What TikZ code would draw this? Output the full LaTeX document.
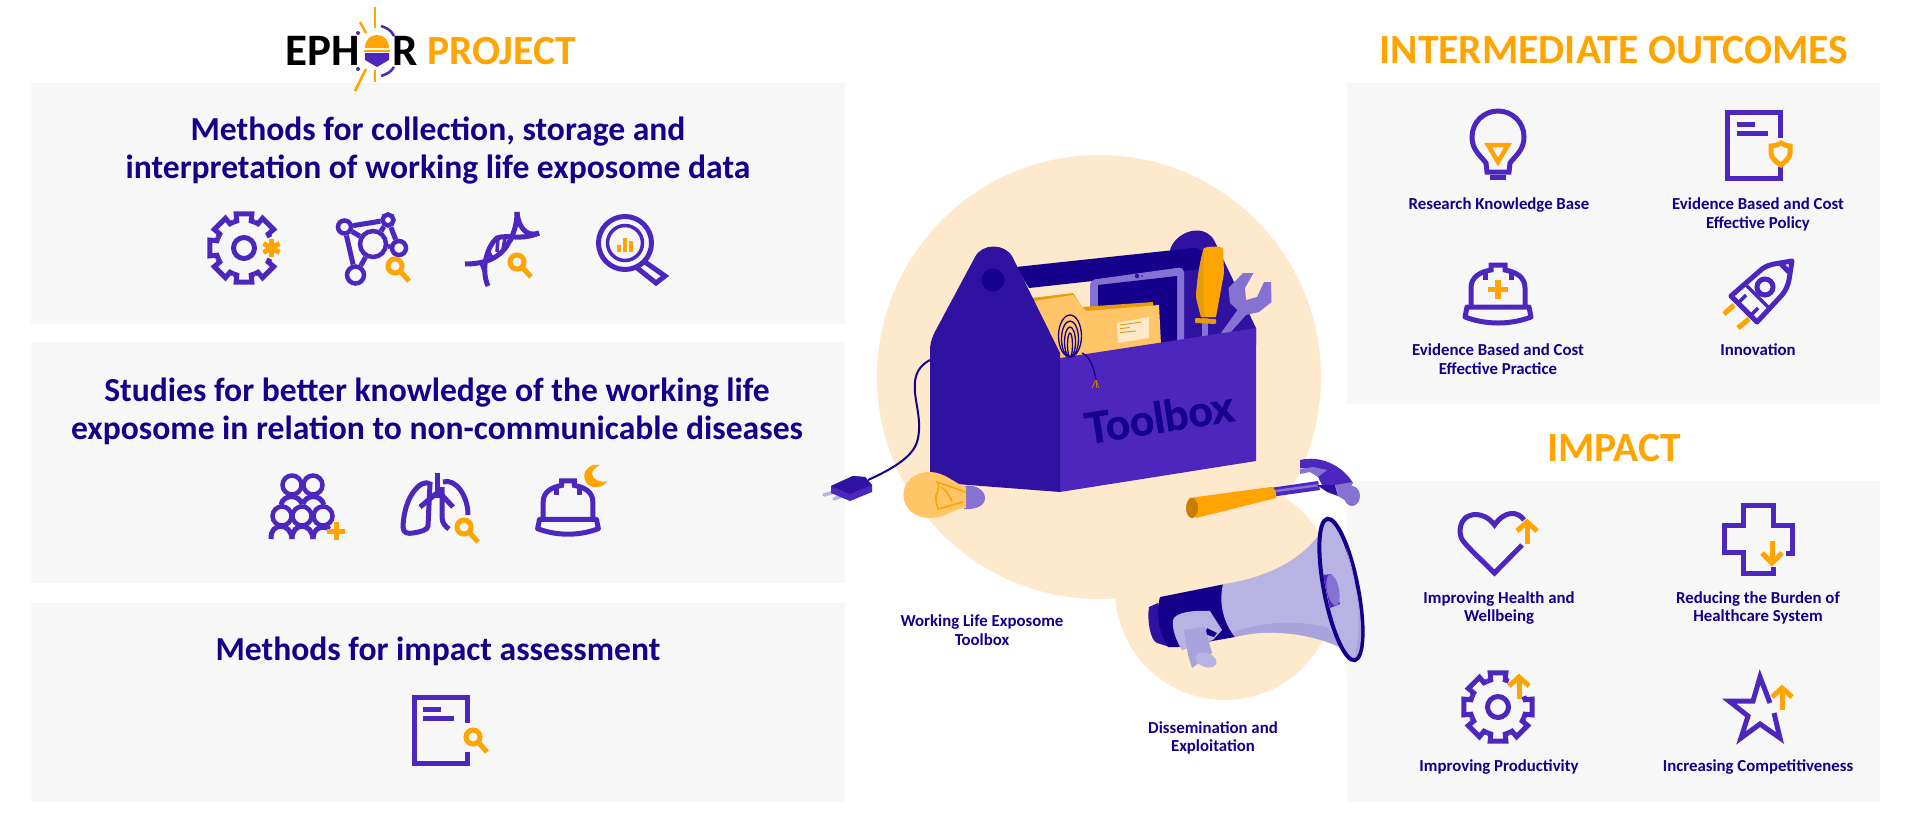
\documentclass[tikz,border=0pt]{standalone}
\usepackage{fontspec}
\setmainfont{Carlito}
\newfontfamily\boxfont[BoldFeatures={FakeBold=1.5}]{Lato}
\usepackage{tikz}

\definecolor{clrnavy}{HTML}{14008A}
\definecolor{clrpurple}{HTML}{4D27BD}
\definecolor{clrdeep}{HTML}{2F12A0}
\definecolor{clrlilac}{HTML}{8572D2}
\definecolor{clrpale}{HTML}{B8B3E3}
\definecolor{clrshade}{HTML}{A9A3DC}
\definecolor{clrorange}{HTML}{FFA400}
\definecolor{clramber}{HTML}{E89C0C}
\definecolor{clrumber}{HTML}{C97E00}
\definecolor{clrfolder}{HTML}{FFC566}
\definecolor{clrbeige}{HTML}{FEE9CC}
\definecolor{clrpanel}{HTML}{F7F7F7}

\tikzset{
  panelbox/.style={fill=clrpanel, draw=none},
  iconline/.style={draw=clrpurple, line width=5pt},
  orangeline/.style={draw=clrorange, line width=5pt},
  titletext/.style={text=clrnavy, font=\bfseries\fontsize{33.6}{38}\selectfont, align=center, inner sep=0},
  headtext/.style={text=clrorange, font=\bfseries\fontsize{41.5}{44}\selectfont, inner sep=0},
  logotext/.style={text=black, font=\bfseries\fontsize{45}{46}\selectfont, inner sep=0},
  smalltext/.style={text=clrnavy, font=\bfseries\fontsize{16.8}{18.5}\selectfont, align=center, inner sep=0},
  netdot/.style={circle, draw=clrpurple, line width=4.5pt, inner sep=0},
}

\newcommand{\lensicon}[2]{%
  \draw[orangeline] (#1,#2) circle (7);
  \draw[orangeline] ({#1+5},{#2+5}) -- ({#1+14},{#2+15});
}
\newcommand{\arrowup}[2]{%
  \draw[orangeline] (#1,{#2+2}) -- (#1,{#2+23});
  \draw[orangeline] ({#1-10},{#2+10}) -- (#1,{#2+1}) -- ({#1+10},{#2+10});
}
\newcommand{\docicon}[2]{%
  \begin{scope}[shift={(#1,#2)}]
  \draw[iconline] (53,26) -- (53,0) -- (0,0) -- (0,66) -- (53,66) -- (53,55);
  \draw[iconline] (9,12) -- (27,12);
  \draw[iconline] (9,21) -- (40,21);
  \end{scope}
}
\newcommand{\hardhat}[3]{%
  \begin{scope}[shift={(#1,#2)}, scale=#3]
  \draw[iconline] (-27,44) -- (-27,25) .. controls (-27,14) and (-18,9) .. (-7,7) -- (-7,2) -- (7,2) -- (7,7) .. controls (18,9) and (27,14) .. (27,25) -- (27,44);
  \draw[iconline] (-13,8) -- (-13,17);
  \draw[iconline] (13,8) -- (13,17);
  \draw[iconline, line join=round] (-31,44) -- (31,44) -- (33,54) .. controls (12,62) and (-12,62) .. (-33,54) -- cycle;
  \end{scope}
}
\newcommand{\gearicon}[3]{%
  \begin{scope}[shift={(#1,#2)}]
  \foreach \a in {#3} {
    \draw[iconline] ({\a-22.5}:28) -- ({\a-15}:28) -- ({\a-13}:35) -- ({\a+13}:35) -- ({\a+15}:28) -- ({\a+22.5}:28);
  }
  \draw[iconline] (0,0) circle (10.5);
  \end{scope}
}

\begin{document}
\begin{tikzpicture}[x=1pt, y=-1pt]
\useasboundingbox (0,0) rectangle (1920,836);

\fill[panelbox] (31,83) rectangle (845,324);
\fill[panelbox] (31,342) rectangle (845,583);
\fill[panelbox] (31,603) rectangle (845,802);
\fill[panelbox] (1347,83) rectangle (1880,404);
\fill[panelbox] (1347,481) rectangle (1880,802);

% logo
\node[logotext, anchor=east] (ephletters) at (360,51) {EPH};
\node[logotext, anchor=west] (rletter) at (392,51) {R};
\node[headtext, anchor=west] (projecttitle) at (427,51) {PROJECT};
\fill[clrorange] (365,48) .. controls (365,40) and (370,35) .. (377,35) .. controls (384,35) and (389,40) .. (389,48) -- cycle;
\fill[clrorange] (364,49.5) rectangle (390,51.5);
\fill[clrpurple] (365,53) -- (389,53) -- (389,60) -- (377,67) -- (365,60) -- cycle;
\draw[clrorange, line width=2.5pt] (375,7) -- (375,28);
\draw[clrorange, line width=2.5pt] (360,22) -- (366,33);
\draw[clrorange, line width=2.5pt] (366,69) -- (355,91);
\draw[clrorange, line width=2.5pt] (375,70) -- (375,82);
\draw[clrpurple, line width=2.5pt] (381,26) .. controls (387,28) and (391,30) .. (394,36);
\draw[clrpurple, line width=2.5pt] (381,76) .. controls (387,74) and (391,72) .. (394,67);
\fill[clrpurple] (358,33) circle (2);
\fill[clrpurple] (358,69) circle (2);

\node[headtext] (outcomestitle) at (1614,50) {INTERMEDIATE OUTCOMES};
\node[headtext] (impacttitle) at (1614,448) {IMPACT};

\begin{scope}[every node/.style={titletext}]
\node (methodstitle) at (438,151) {Methods for collection, storage and\\interpretation of working life exposome data};
\node (studiestitle) at (437,411) {Studies for better knowledge of the working life\\exposome in relation to non-communicable diseases};
\node (assesstitle) at (438,651) {Methods for impact assessment};
\end{scope}

\begin{scope}[every node/.style={smalltext}]
\node (knowledge) at (1499,205) {Research Knowledge Base};
\node (policy) at (1758,214.5) {Evidence Based and Cost\\Effective Policy};
\node (practice) at (1498,359) {Evidence Based and Cost\\Effective Practice};
\node (innovation) at (1758,350) {Innovation};
\node (health) at (1499,608) {Improving Health and\\Wellbeing};
\node (burden) at (1758,608) {Reducing the Burden of\\Healthcare System};
\node (productivity) at (1499,767) {Improving Productivity};
\node (competitive) at (1758,767) {Increasing Competitiveness};
\node (toolboxcap) at (982,630) {Working Life Exposome\\Toolbox};
\node (dissemination) at (1213,738) {Dissemination and\\Exploitation};
\end{scope}

% gear with asterisk
\gearicon{244}{248}{-135,-90,-45,45,90,135,180}
\draw[orangeline] (271.5,239) -- (271.5,257);
\draw[orangeline] (263.5,243.5) -- (279.5,252.5);
\draw[orangeline] (263.5,252.5) -- (279.5,243.5);

% network
\node[netdot, minimum size=13pt] (n1) at (344.5,227) {};
\node[netdot, minimum size=11pt] (n2) at (388,220) {};
\node[netdot, minimum size=26pt] (n3) at (373,244) {};
\node[netdot, minimum size=14pt] (n4) at (399,248) {};
\node[netdot, minimum size=17pt] (n5) at (355.5,275) {};
\draw[iconline] (n1) -- (n2);
\draw[iconline] (n2) -- (n4);
\draw[iconline] (n1) -- (n5);
\draw[iconline] (n1) -- (n3);
\draw[iconline] (n3) -- (n2);
\draw[iconline] (n3) -- (n4);
\draw[iconline] (n3) -- (n5);
\lensicon{395}{266}

% dna
\draw[iconline] (517,212) .. controls (518,225) and (525,238) .. (539,233);
\draw[iconline] (539,233) .. controls (520,241) and (508,234) .. (497,238) .. controls (488,245) and (480,268) .. (488,286);
\draw[iconline] (465,264) .. controls (485,264) and (500,258) .. (508,244) .. controls (513,235) and (517,226) .. (517,212);
\draw[iconline, line width=3.5pt] (498,238) -- (497,252);
\draw[iconline, line width=3.5pt] (505,238) -- (503,249);
\draw[iconline, line width=3.5pt] (512,238) -- (511,241);
\draw[iconline, line width=3.5pt] (488,250) -- (492,258);
\draw[iconline, line width=3.5pt] (481,263) -- (484,271);
\lensicon{517}{262}

% search with bars
\draw[iconline] (625,243) circle (26.5);
\draw[iconline, line width=3.5pt] (625,243) circle (17.5);
\draw[iconline] (645,262) -- (665,276) -- (656,283) -- (636,267);
\fill[clrorange] (617,245) rectangle (621,252);
\fill[clrorange] (623,238) rectangle (627,252);
\fill[clrorange] (629,241) rectangle (633,252);

% people
\begin{scope}[every node/.style={netdot, minimum size=19pt}]
\node (head1) at (292,485) {};
\node (head2) at (313,485) {};
\node (head3) at (282,516) {};
\node (head4) at (302,516) {};
\node (head5) at (323,516) {};
\end{scope}
\draw[iconline] (281,505) .. controls (283,494) and (299,494) .. (302,504);
\draw[iconline] (303,504) .. controls (306,494) and (321,494) .. (324,505);
\draw[iconline] (271,539) .. controls (270,522) and (291,522) .. (292,539);
\draw[iconline] (292,539) .. controls (292,522) and (312,522) .. (313,539);
\draw[iconline] (313,539) .. controls (313,526) and (324,526) .. (330,529);
\draw[orangeline] (336,522) -- (336,540);
\draw[orangeline] (327,531) -- (345,531);

% lungs
\draw[iconline] (437,473) -- (437,498);
\draw[iconline] (437,493) -- (420,507);
\draw[iconline] (440,493) -- (453,507);
\draw[iconline] (430,484) .. controls (422,478) and (404,495) .. (403,527) .. controls (403,533) and (408,534) .. (413,533) .. controls (420,532) and (428,530) .. (428,526) -- cycle;
\draw[iconline] (443,482) .. controls (455,478) and (468,495) .. (468,515);
\draw[iconline] (442,487) -- (442,517) .. controls (442,523) and (445,526) .. (449,529);
\lensicon{464}{527}

% helmet and moon
\hardhat{568}{479}{0.92}
\fill[clrorange] (600,465) .. controls (588,463) and (582,473) .. (585,480) .. controls (588,489) and (602,490) .. (607,481) .. controls (600,483) and (593,480) .. (592,474) .. controls (592,470) and (596,467) .. (600,465) -- cycle;

\docicon{414}{697}
\lensicon{473}{737}

% bulb
\draw[iconline] (1487,172) -- (1486,163) .. controls (1480,155) and (1472,150) .. (1472,137) .. controls (1472,122) and (1484,111) .. (1498,111) .. controls (1512,111) and (1524,122) .. (1524,137) .. controls (1524,150) and (1516,155) .. (1510,163) -- (1509,172) -- cycle;
\draw[iconline] (1490,177) -- (1506,177);
\draw[orangeline, line width=4.5pt] (1488,145) -- (1508,145) -- (1498,162) -- cycle;

% document and shield
\docicon{1727.5}{112}
\draw[orangeline] (1771,146) .. controls (1776,146) and (1779,144) .. (1781,143) .. controls (1783,144) and (1786,146) .. (1790,146) -- (1790,153) .. controls (1790,158) and (1785,162) .. (1781,165) .. controls (1776,162) and (1771,158) .. (1771,153) -- cycle;

% helmet and plus
\hardhat{1498}{263}{1}
\draw[orangeline, line width=5.5pt] (1498,280) -- (1498,299);
\draw[orangeline, line width=5.5pt] (1488,289.5) -- (1508,289.5);

% rocket
\draw[iconline, line join=round] (1792,261) -- (1774,264) .. controls (1770,265) and (1766,266) .. (1762,269) -- (1731,296) -- (1757,322) -- (1782,295) .. controls (1786,290) and (1788,285) .. (1789,280) -- cycle;
\draw[iconline] (1781,264) -- (1789,272);
\draw[iconline] (1765,287) circle (8);
\draw[iconline, line width=3.5pt] (1745,284) -- (1771,310);
\draw[iconline, line width=3.5pt] (1738,303) -- (1746,295);
\draw[iconline, line width=3.5pt] (1750,316) -- (1758,308);
\draw[orangeline] (1724,314) -- (1734,305);
\draw[orangeline] (1738,328) -- (1749,319);

% heart
\draw[iconline] (1524,520) .. controls (1518,511) and (1505,510) .. (1494.5,525) .. controls (1484,510) and (1460,510) .. (1460,532) .. controls (1460,540) and (1464,543) .. (1494.5,573) -- (1522,545);
\arrowup{1527}{521}

% cross
\draw[iconline] (1786,553) -- (1792,553) -- (1792,525) -- (1773,525) -- (1773,505.5) -- (1743,505.5) -- (1743,525) -- (1724,525) -- (1724,552) -- (1743,552) -- (1743,573) -- (1773,573) -- (1773,567);
\draw[orangeline] (1772,541) -- (1772,562);
\draw[orangeline] (1762,553) -- (1772,563) -- (1782,553);

% gear with arrow
\gearicon{1498}{707}{-90,-135,180,135,90,45,0}
\arrowup{1519}{676}

% star
\draw[iconline] (1770,703) -- (1760,677) -- (1753,701) -- (1729,701) -- (1748,716) -- (1741,738) -- (1760,724) -- (1780,738) -- (1774,713);
\arrowup{1782}{687}

% toolbox
\fill[clrbeige] (1099,377) circle (222);
\fill[clrbeige] (1225,590) circle (110);

\fill[clrdeep] (1180,345) -- (1170,250) .. controls (1175,232) and (1203,222) .. (1214,240) -- (1256,328) -- (1256,345) -- cycle;
\fill[clrnavy] (1016,267) -- (1193,248) .. controls (1208,247) and (1210,268) .. (1193,270) -- (1029,288) -- cycle;
\fill[clrlilac, rounded corners=5pt] (1090,354) -- (1090,280) -- (1184,267) -- (1184,345) -- cycle;
\fill[clrnavy] (1098,350) -- (1098,285) -- (1177,276) -- (1177,345) -- cycle;
\fill[clrdeep] (1137,276) circle (2.2);
\fill[clrdeep] (1142,276) circle (0.8);
\fill[clramber] (1032,298) -- (1073,293) -- (1082,307) -- (1153,302) -- (1154,312) -- (1040,330) -- cycle;
\fill[clrfolder] (1034,301) -- (1073,295) -- (1086,311) -- (1159,305) -- (1161,345) -- (1087,358) -- (1060,358) -- cycle;
\fill[clrbeige] (1117,323) -- (1149,317) -- (1149,338) -- (1118,343) -- cycle;
\draw[clramber, line width=1pt] (1120,325) -- (1141,322);
\draw[clramber, line width=1pt] (1120,328.5) -- (1130,327.5);
\draw[clramber, line width=1pt] (1120,332.5) -- (1136,331);
\fill[clrlilac] (1221,333) -- (1237.5,310) -- (1230,303) -- (1228.5,288) -- (1243,273) -- (1253.5,273) -- (1245,288) -- (1246,300) -- (1257,297) -- (1264,282) -- (1271,282) -- (1271.5,302) -- (1259,312) -- (1246,315) -- (1230,333) -- cycle;
\fill[clrlilac] (1202,318) rectangle (1208,338);
\fill[clrorange] (1204,248) .. controls (1210,246) and (1218,246) .. (1223,248) -- (1224,273) -- (1216,317) -- (1201,317) -- (1196,297) .. controls (1197,280) and (1200,260) .. (1204,248) -- cycle;
\fill[clramber] (1204,248) .. controls (1200,260) and (1197,280) .. (1196,297) -- (1201,317) -- (1205,317) -- (1203,297) .. controls (1203,280) and (1204,260) .. (1204,248) -- cycle;
\fill[clramber, rounded corners=1pt] (1195,318) -- (1216,319) -- (1216,324) -- (1195,323) -- cycle;
\fill[clrpurple] (1060,358) -- (1256,328) -- (1256,461) -- (1060,492) -- cycle;
\fill[clrdeep] (930,482) -- (930,350) .. controls (930,342) and (933,335) .. (937.5,327) -- (975,257) .. controls (982,243) and (1005,243) .. (1012.5,257) -- (1060,353) -- (1060,492) -- cycle;
\fill[clrnavy] (993,280) circle (11.5);

% wire coil
\begin{scope}[clrnavy, line width=1.3pt]
\draw (1070,336) ellipse (11.5 and 21);
\draw (1070,339) ellipse (8.5 and 18);
\draw (1070,342) ellipse (5.5 and 15);
\draw (1070,345) ellipse (2.5 and 12);
\draw (1082,353) .. controls (1090,356) and (1094,368) .. (1096,380);
\end{scope}
\draw[clrumber, line width=0.7pt] (1096,380) -- (1092,388);
\draw[clrumber, line width=0.7pt] (1096,380) -- (1096,388);
\draw[clrumber, line width=0.7pt] (1096,380) -- (1099,388);

\node[inner sep=0, rotate=9, text=clrnavy, font=\boxfont\bfseries\fontsize{42.5}{44}\selectfont] (toolboxname) at (1159,417) {Toolbox};

% cord and plug
\draw[clrnavy, line width=2pt] (930,360) .. controls (915,368) and (914,380) .. (915,393) .. controls (917,410) and (922,425) .. (917,442) .. controls (912,458) and (890,470) .. (868,480);
\draw[clrpale, line width=3.5pt, line cap=round] (824,495) -- (838,491);
\draw[clrpale, line width=3.5pt, line cap=round] (834,499) -- (847,494);
\fill[clrpurple] (831,486) -- (853,476) -- (865,477) -- (872,485) -- (872,492) -- (850,501) -- (831,493) -- cycle;
\fill[clrdeep] (831,486) -- (853,476) -- (865,477) -- (872,485) -- (850,494) -- cycle;

% lamp
\fill[clrlilac] (964,486) .. controls (975,484) and (985,490) .. (985,498) .. controls (985,506) and (975,510) .. (964,509) -- cycle;
\fill[clrfolder] (966,487) -- (966,508) .. controls (955,508) and (945,518) .. (930,518) .. controls (914,518) and (903.5,508) .. (903.5,495) .. controls (903.5,482) and (914,472) .. (930,472) .. controls (945,472) and (955,484) .. (966,487) -- cycle;
\draw[clrorange, line width=1.6pt] (966,492) -- (937,482) .. controls (942,488) and (934,494) .. (936,501) -- (938,509) -- (963,502);
\draw[clrorange, line width=1.6pt] (941,487) .. controls (947,490) and (950,498) .. (952,501);

% hammer
\fill[clrpurple] (1270,488) -- (1318,481) -- (1320,490) -- (1270,497) -- cycle;
\fill[clrlilac] (1270,490.5) -- (1318,484) -- (1318,486.5) -- (1270,493) -- cycle;
\fill[clrorange] (1189,498) -- (1271,487) .. controls (1275,487) and (1277,494) .. (1276,498) -- (1196,518) -- cycle;
\fill[clrumber] (1192,508) ellipse (6 and 10);
\fill[clrpurple] (1300,460) .. controls (1320,455) and (1342,465) .. (1353,483) -- (1337,486) -- (1323,487) -- (1318,477) .. controls (1313,472) and (1307,468) .. (1300,468) -- cycle;
\fill[clrlilac] (1300,469) -- (1313,467) -- (1327,470) -- (1318,477) -- (1310,472) -- (1300,474) -- cycle;
\fill[clrdeep] (1317,485) -- (1335,485) -- (1338,496) -- (1327,492) -- cycle;
\fill[clrlilac] (1335,485) -- (1353,482) -- (1346,501) -- (1338,496) -- cycle;
\fill[clrlilac] (1352,496) ellipse (8 and 10);

% megaphone
\fill[clrdeep] (1158,603) -- (1149,607) .. controls (1147,620) and (1150,640) .. (1157,643) -- (1170,647) -- cycle;
\fill[clrnavy] (1160,597) -- (1225,584) -- (1235,637) -- (1178,647) -- (1168,647) .. controls (1160,635) and (1155,615) .. (1160,597) -- cycle;
\fill[clrpale] (1223,584) .. controls (1255,580) and (1300,565) .. (1322,530) -- (1352,655) .. controls (1335,640) and (1280,625) .. (1235,637) .. controls (1225,625) and (1218,605) .. (1223,584) -- cycle;
\fill[clrshade] (1233,632) .. controls (1255,625) and (1285,618) .. (1327,627) -- (1352,655) .. controls (1335,640) and (1280,625) .. (1235,637) -- cycle;
\draw[clrnavy, fill=clrpale, line width=4pt, shift={(1341,589.5)}, rotate=11] (0,0) ellipse (17 and 72);
\fill[clrshade, shift={(1341,589.5)}, rotate=11] (13,-40) .. controls (18,0) and (14,40) .. (0,70) .. controls (10,68) and (16,30) .. (15,0) -- cycle;
\fill[clrpurple] (1323,575) -- (1331,574) -- (1340,604) -- (1330,608) -- cycle;
\fill[clrlilac, shift={(1333,590)}, rotate=11] (0,0) ellipse (6 and 16);
\fill[clrpale] (1173,620) .. controls (1175,612) and (1195,610) .. (1210,611) -- (1222,630) -- (1213,640) -- (1182,650) .. controls (1176,640) and (1172,630) .. (1173,620) -- cycle;
\fill[clrnavy] (1207,628) -- (1217,633) -- (1214,637) -- (1205,634) -- cycle;
\fill[clrshade] (1184,630) -- (1205,627) -- (1212,653) -- (1192,668) -- (1188,655) -- cycle;
\fill[clrpale, rotate around={-20:(1206,660)}] (1206,660) ellipse (11 and 7);

\end{tikzpicture}
\end{document}
